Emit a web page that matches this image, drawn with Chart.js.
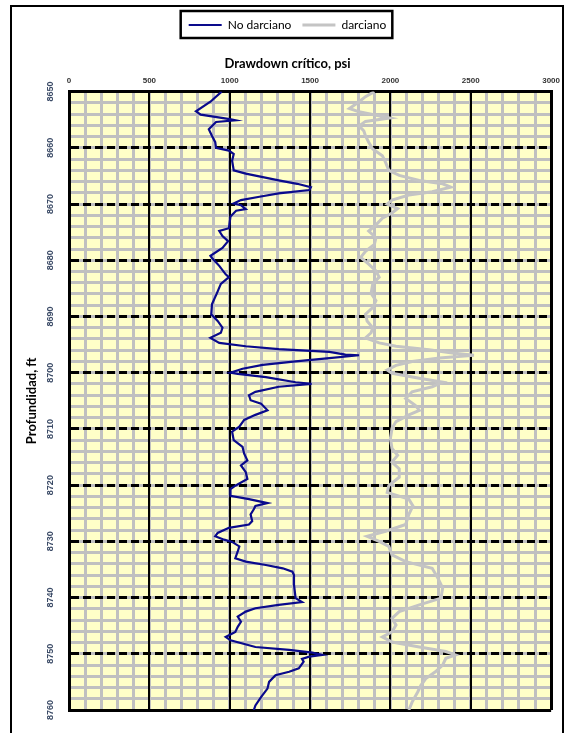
<!DOCTYPE html>
<html>
<head>
<meta charset="utf-8">
<title>Drawdown crítico</title>
<script src="https://cdn.jsdelivr.net/npm/chart.js@4.4.1/dist/chart.umd.min.js"></script>
<style>
  html, body { margin: 0; padding: 0; background: #fff; }
  #wrap  { position: relative; width: 566px; height: 733px; overflow: hidden; }
  #frame {
    position: absolute; left: 10px; top: 5px;
    width: 550px; height: 760px;
    border: 2px solid #000; pointer-events: none;
  }
</style>
</head>
<body>
<div id="wrap">
  <canvas id="drawdown-chart" width="566" height="733"></canvas>
  <div id="frame"></div>
</div>

<script>
/* --------------------------------------------------
   Datos (profundidad en ft, drawdown en psi)
   -------------------------------------------------- */
var xTickValues = [0, 500, 1000, 1500, 2000, 2500, 3000];
var yTickValues = [8650, 8660, 8670, 8680, 8690, 8700, 8710, 8720, 8730, 8740, 8750, 8760];

// No darciano
var depthNoDarciano = [
  8650, 8651.8, 8653.5, 8654.1, 8654.9, 8655.1, 8655.4, 8656.7, 8657.9, 8659,
  8660, 8660.5, 8661.1, 8662.3, 8664, 8664.6, 8665.8, 8666.4, 8667, 8667.5,
  8668.1, 8668.7, 8669.3, 8669.9, 8670.2, 8670.9, 8671.2, 8672.2, 8674.3, 8674.8,
  8675.7, 8676.6, 8677.8, 8679.2, 8679.6, 8681, 8682.5, 8683, 8684.2, 8685.9,
  8687.8, 8689.6, 8690.8, 8692, 8692.9, 8693.8, 8694.7, 8695.3, 8695.8, 8696.3,
  8696.8, 8696.9, 8697.4, 8698, 8698.6, 8699.3, 8700, 8700.2, 8700.8, 8701.7,
  8702, 8702.5, 8703.4, 8704, 8704.9, 8705.5, 8706.7, 8707.5, 8708.4, 8709.6,
  8710.5, 8712, 8713.2, 8714.4, 8715.6, 8716.5, 8717.7, 8718.9, 8720.1, 8720.7,
  8721.9, 8722.5, 8723.2, 8723.7, 8724.3, 8725.2, 8726.4, 8727, 8727.6, 8728.5,
  8729.1, 8729.7, 8730.1, 8730.9, 8731.8, 8733, 8733.6, 8734.2, 8734.8, 8735.4,
  8736, 8737.7, 8740.1, 8740.8, 8741.3, 8741.9, 8742.5, 8743.4, 8744.3, 8745.2,
  8746.1, 8747, 8747.6, 8748.8, 8749.3, 8749.8, 8750.2, 8750.5, 8750.9, 8751.4,
  8752.6, 8753.2, 8753.8, 8755, 8756.2, 8757.7, 8759.2, 8760
];
var psiNoDarciano = [
  950, 880, 790, 820, 1000, 1035, 915, 870, 890, 910,
  915, 995, 1025, 1015, 1025, 1100, 1305, 1420, 1505, 1495,
  1305, 1185, 1070, 1025, 1070, 1100, 1040, 1005, 995, 935,
  955, 990, 955, 880, 890, 935, 975, 995, 945, 920,
  890, 885, 925, 955, 945, 880, 935, 1100, 1305, 1620,
  1720, 1805, 1620, 1410, 1205, 1080, 1005, 1050, 1225, 1410,
  1510, 1305, 1160, 1120, 1130, 1195, 1235, 1160, 1090, 1060,
  1015, 1025, 1080, 1090, 1110, 1070, 1100, 1110, 1035, 1005,
  1005, 1120, 1235, 1160, 1150, 1130, 1140, 1120, 995, 925,
  910, 965, 1015, 1060, 1050, 1035, 1100, 1225, 1330, 1390,
  1400, 1400, 1410, 1450, 1305, 1160, 1100, 1050, 1070, 1050,
  1035, 975, 1005, 1160, 1370, 1515, 1575, 1495, 1450, 1460,
  1430, 1370, 1285, 1245, 1235, 1195, 1160, 1150
];

// darciano
var depthDarciano = [
  8650, 8650.9, 8651.8, 8653, 8653.6, 8654.7, 8655.3, 8656.1, 8657, 8657.9,
  8659, 8660.2, 8661.4, 8662.6, 8664, 8664.9, 8665.8, 8666.4, 8667, 8667.8,
  8668.4, 8669.3, 8670, 8670.8, 8671.6, 8672.5, 8673.7, 8674.8, 8676, 8677.2,
  8678.4, 8679.5, 8680.7, 8681.9, 8683, 8684.2, 8685.9, 8687.2, 8688.4, 8689.6,
  8690.8, 8692, 8692.9, 8693.8, 8694.7, 8695.3, 8695.9, 8696.5, 8696.9, 8697.4,
  8698, 8698.7, 8699.5, 8700.1, 8701, 8701.7, 8702.5, 8703.4, 8704.6, 8705.8,
  8706.7, 8707.5, 8708.7, 8709.9, 8711.7, 8713.5, 8714.7, 8715.9, 8717.1, 8718.6,
  8720.1, 8721.3, 8722.5, 8723.7, 8725.2, 8727, 8728.2, 8729.1, 8730, 8730.9,
  8732.4, 8733.6, 8734.8, 8736.5, 8738.3, 8740.1, 8741.3, 8742.5, 8743.7, 8744.9,
  8746.1, 8747, 8747.9, 8748.8, 8749.6, 8750.2, 8750.8, 8752, 8753.2, 8754.4,
  8755.6, 8756.8, 8758.6, 8760
];
var psiDarciano = [
  1900, 1845, 1805, 1745, 1805, 1995, 1845, 1805, 1835, 1845,
  1865, 1890, 1950, 1970, 1990, 2055, 2180, 2325, 2375, 2260,
  2115, 2010, 1980, 2045, 2010, 1950, 1910, 1865, 1910, 1900,
  1845, 1815, 1865, 1910, 1930, 1890, 1880, 1910, 1890, 1845,
  1855, 1890, 1880, 1845, 1930, 2035, 2240, 2385, 2520, 2305,
  2135, 2035, 1980, 2010, 2180, 2325, 2260, 2135, 2095, 2155,
  2180, 2115, 2035, 2010, 2000, 2010, 2045, 2010, 2055, 2055,
  1990, 1980, 2115, 2140, 2115, 2095, 1970, 1855, 1930, 1990,
  2010, 2095, 2260, 2295, 2325, 2315, 2180, 2055, 2010, 2035,
  2010, 1950, 2010, 2180, 2345, 2405, 2345, 2325, 2280, 2220,
  2190, 2170, 2135, 2115
];

/* --------------------------------------------------
   Utilidades
   -------------------------------------------------- */
function toPoints(depths, values) {
  return depths.map(function (d, i) { return { x: values[i], y: d }; });
}

function setTicks(list) {
  return function (scale) {
    scale.ticks = list.map(function (v) { return { value: v }; });
  };
}

function plainLabel(val) {
  return String(val);
}

function isEdge(ctx, min, max) {
  return ctx.tick && (ctx.tick.value === min || ctx.tick.value === max);
}

// fondo amarillo del área de trazado
var plotBackground = {
  id: 'plotBackground',
  beforeDraw: function (chart) {
    var a = chart.chartArea;
    var ctx = chart.ctx;
    ctx.save();
    ctx.fillStyle = '#ffffc8';
    ctx.fillRect(a.left, a.top, a.right - a.left, a.bottom - a.top);
    ctx.restore();
  },
};

// recuadro negro alrededor de la leyenda
var legendFrame = {
  id: 'legendFrame',
  afterDraw: function (chart) {
    var boxes = chart.legend && chart.legend.legendHitBoxes;
    if (!boxes || !boxes.length) return;
    var l = Infinity, t = Infinity, r = -Infinity, b = -Infinity;
    boxes.forEach(function (h) {
      l = Math.min(l, h.left);
      t = Math.min(t, h.top);
      r = Math.max(r, h.left + h.width);
      b = Math.max(b, h.top + h.height);
    });
    var ctx = chart.ctx;
    ctx.save();
    ctx.strokeStyle = '#000';
    ctx.lineWidth = 2.5;
    ctx.strokeRect(l - 8, t - 8, (r - l) + 14, (b - t) + 15);
    ctx.restore();
  },
};

/* --------------------------------------------------
   Gráfico
   -------------------------------------------------- */
var tickFont = { family: 'Liberation Sans', size: 8, weight: 'bold' };

new Chart(document.getElementById('drawdown-chart'), {
  type: 'scatter',
  data: {
    datasets: [
      {
        label:       'No darciano',
        data:        toPoints(depthNoDarciano, psiNoDarciano),
        showLine:    true,
        borderColor: '#0a0a8c',
        borderWidth: 2.2,
        pointRadius: 0,
        tension:     0,
      },
      {
        label:       'darciano',
        data:        toPoints(depthDarciano, psiDarciano),
        showLine:    true,
        borderColor: '#c4c4c4',
        borderWidth: 3,
        pointRadius: 0,
        tension:     0,
      },
    ],
  },
  options: {
    responsive:          false,
    maintainAspectRatio: false,
    animation:           false,
    devicePixelRatio:    1,
    layout: { padding: { top: 8, left: 18, right: 9, bottom: 23 } },
    plugins: {
      legend: {
        position: 'top',
        weight:   3000,
        labels: {
          usePointStyle:   true,
          pointStyle:      'line',
          pointStyleWidth: 33,
          padding:         11,
          color:           '#000',
          font:            { family: 'Lato', size: 12 },
        },
      },
      title: {
        display: true,
        text:    'Drawdown crítico, psi',
        color:   '#000',
        font:    { family: 'Lato', size: 13, weight: 'bold' },
        padding: { top: 15, bottom: 4 },
      },
      tooltip: { enabled: false },
    },
    scales: {
      x: {
        type:     'linear',
        position: 'top',
        min:      0,
        max:      3000,
        afterBuildTicks: setTicks(xTickValues),
        afterFit: function (scale) { scale.height = 16; },
        ticks: { font: tickFont, color: '#333', padding: 6, autoSkip: false, maxRotation: 0, callback: plainLabel },
        grid: {
          color:     '#000',
          lineWidth: function (ctx) { return isEdge(ctx, 0, 3000) ? 3 : 2; },
          drawTicks: false,
          z:         -1,
        },
        border: { display: true, color: '#000', width: 3 },
      },
      xMinor: {
        type:     'linear',
        position: 'top',
        min:      0,
        max:      3000,
        ticks:  { display: false, stepSize: 100, maxTicksLimit: 100 },
        grid:   { color: '#c0c0c0', lineWidth: 3, drawTicks: false, z: -2 },
        border: { display: false },
      },
      y: {
        type:     'linear',
        position: 'left',
        reverse:  true,
        min:      8650,
        max:      8760,
        afterBuildTicks: setTicks(yTickValues),
        afterFit: function (scale) { scale.width = 51; },
        ticks: {
          font:        { family: 'Liberation Sans', size: 9, weight: 'bold' },
          color:       '#3a4a66',
          padding:     8,
          autoSkip:    false,
          crossAlign:  'center',
          minRotation: 90,
          maxRotation: 90,
          callback:    plainLabel,
        },
        grid: {
          color:     '#000',
          lineWidth: 3,
          drawTicks: false,
          z:         -1,
        },
        border: {
          display: true,
          color:   '#000',
          width:   3,
          dash:    function (ctx) { return isEdge(ctx, 8650, 8760) ? [] : [8, 4]; },
        },
        title: {
          display: true,
          text:    'Profundidad, ft',
          color:   '#000',
          font:    { family: 'Lato', size: 13, weight: 'bold' },
          padding: { top: 6, bottom: 0 },
        },
      },
      yMinor: {
        type:     'linear',
        position: 'left',
        reverse:  true,
        min:      8650,
        max:      8760,
        ticks:  { display: false, stepSize: 2, maxTicksLimit: 100 },
        grid:   { color: '#c0c0c0', lineWidth: 3, drawTicks: false, z: -2 },
        border: { display: false },
      },
    },
  },
  plugins: [plotBackground, legendFrame],
});
</script>
</body>
</html>
